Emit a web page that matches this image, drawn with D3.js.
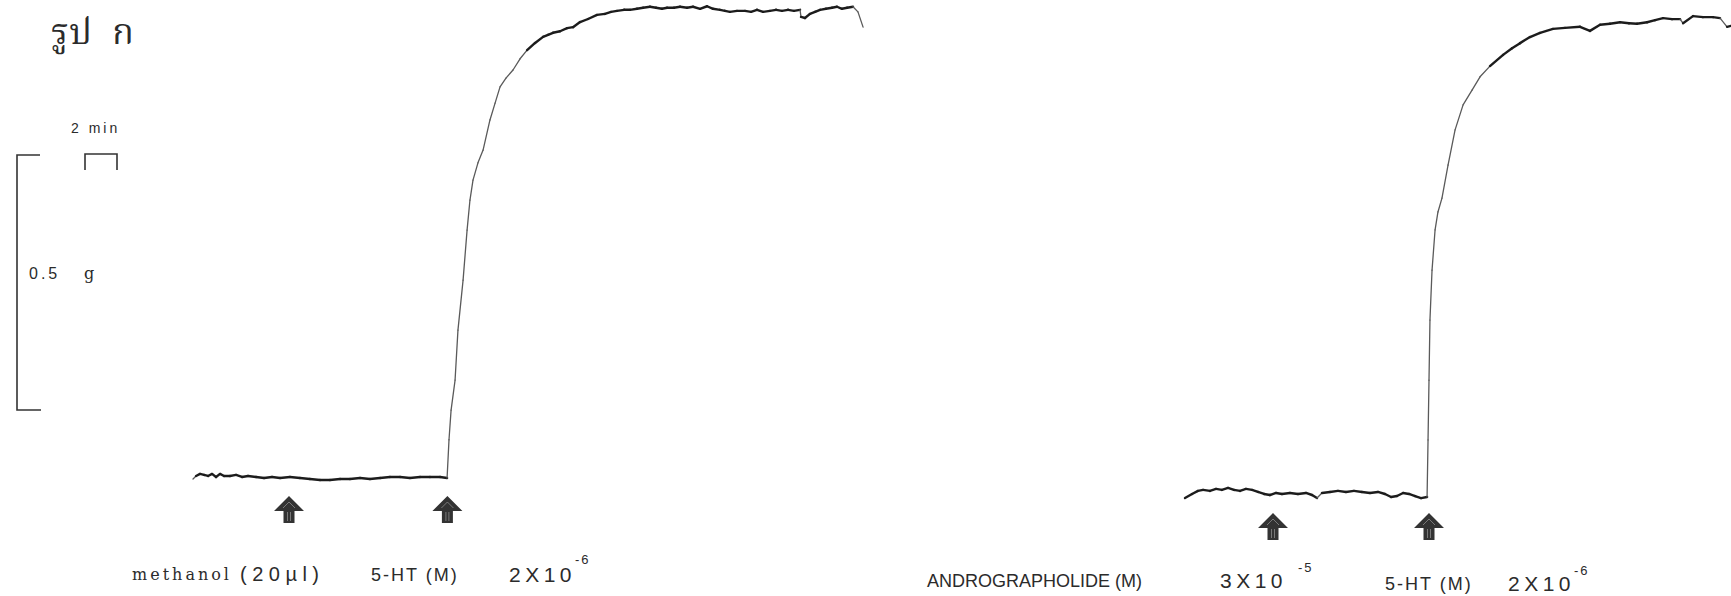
<!DOCTYPE html>
<html>
<head>
<meta charset="utf-8">
<script src="https://cdn.jsdelivr.net/npm/d3@7"></script>
<style>
body { margin: 0; background: #fff; }
svg text { fill: #2b2b2b; }
</style>
</head>
<body>
<div id="chart"></div>
<script>
// time in min after start of record, tension in g above resting level
const ctrlTime = [0, 0.19, 0.44, 0.69, 0.94, 1.19, 1.44, 1.69, 1.94, 2.31, 2.69, 3.06, 3.44, 3.94, 4.44, 4.94, 5.44, 6.06, 6.69, 7.31, 7.94, 8.56, 9.19, 9.81, 10.44, 11.06, 11.69, 12.31, 12.94, 13.56, 14.19, 14.81, 15.44, 15.88,
    16.0, 16.13, 16.38, 16.56, 16.88, 17.13, 17.31, 17.5, 17.81, 18.13, 18.56, 18.88, 19.19, 19.56, 20.0, 20.44, 20.88, 21.38, 21.88, 22.19, 22.5, 22.94, 23.38, 23.75, 24.19, 24.69, 25.25, 25.75, 26.13,
    26.5, 26.94, 27.31, 27.75, 28.13, 28.56, 28.94, 29.31, 29.63, 30.06, 30.44, 30.88, 31.25, 31.69, 32.13, 32.5, 32.94, 33.25, 33.56, 34.0, 34.5, 34.88, 35.25, 35.63, 36.06, 36.44, 36.81, 37.19, 37.56, 37.94,
    38.0, 38.25, 38.56, 38.88, 39.19, 39.56, 39.94, 40.25, 40.56, 40.88, 41.25, 41.56, 41.88];
const ctrlTension = [-0.002, 0.004, 0.008, 0.006, 0.004, 0.008, 0.002, 0.008, 0.004, 0.004, 0.006, 0.002, 0.004, 0.002, 0, 0.002, 0, 0.002, 0, -0.002, -0.004, -0.004, -0.002, -0.002, 0, -0.002, 0, 0.002, 0.002, 0, 0.002, 0.002, 0.002, 0,
    0.075, 0.133, 0.192, 0.29, 0.388, 0.486, 0.545, 0.584, 0.618, 0.643, 0.702, 0.735, 0.767, 0.784, 0.8, 0.822, 0.839, 0.853, 0.865, 0.869, 0.873, 0.876, 0.882, 0.884, 0.894, 0.9, 0.908, 0.91, 0.914,
    0.916, 0.918, 0.918, 0.92, 0.922, 0.924, 0.922, 0.92, 0.922, 0.922, 0.924, 0.922, 0.924, 0.92, 0.925, 0.92, 0.918, 0.916, 0.914, 0.916, 0.916, 0.914, 0.918, 0.914, 0.916, 0.918, 0.916, 0.918, 0.916, 0.918,
    0.904, 0.902, 0.91, 0.914, 0.918, 0.92, 0.922, 0.924, 0.92, 0.922, 0.924, 0.914, 0.884];

const androTime = [0, 0.44, 0.81, 1.13, 1.56, 1.94, 2.31, 2.69, 3.06, 3.44, 3.81, 4.19, 4.56, 4.94, 5.31, 5.69, 6.06, 6.56, 7.06, 7.56, 7.94, 8.25, 8.56, 9.06, 9.56, 10.06, 10.56, 11.06, 11.56, 12.06, 12.5, 12.88, 13.25, 13.63, 14.0, 14.38, 14.75, 15.13,
    15.19, 15.25, 15.31, 15.44, 15.63, 15.81, 16.06, 16.44, 16.88, 17.38, 17.94, 18.44, 19.06, 19.88, 20.44, 20.94, 21.56, 22.19, 23.0, 23.75, 24.69, 25.31, 25.94, 26.56, 27.19, 27.75, 28.25, 28.88, 29.38, 29.88, 30.44, 30.94, 31.13, 31.75, 32.38, 33.0, 33.44, 33.88, 34.13];
const androTension = [-0.006, 0.002, 0.008, 0.01, 0.008, 0.012, 0.01, 0.014, 0.01, 0.008, 0.012, 0.01, 0.006, 0.002, 0, 0.004, 0.002, 0.004, 0.002, 0.004, 0, -0.006, 0.004, 0.006, 0.008, 0.006, 0.008, 0.006, 0.004, 0.006, 0.002, -0.004, -0.002, 0.004, 0.002, -0.002, -0.006, -0.004,
    0.108, 0.225, 0.343, 0.441, 0.52, 0.555, 0.582, 0.647, 0.716, 0.765, 0.794, 0.82, 0.841, 0.863, 0.876, 0.886, 0.898, 0.906, 0.914, 0.916, 0.918, 0.91, 0.922, 0.924, 0.927, 0.925, 0.924, 0.927, 0.931, 0.935, 0.933, 0.933, 0.925, 0.939, 0.937, 0.937, 0.935, 0.918, 0.92];

// drug additions (min)
const ctrlDoses = [6.0, 15.9];
const androDoses = [5.5, 15.25];

const title = "รูป ก";
const calTime = 2;      // min
const calTension = 0.5; // g
const ctrlLabels = ["methanol", "(20\u00b5l)", "5-HT (M)", "2X10", "-6"];
const androLabels = ["ANDROGRAPHOLIDE (M)", "3X10", "-5", "5-HT (M)", "2X10", "-6"];

const width = 1731, height = 596;
const pxPerMin = 16, pxPerG = 510;

const svg = d3.select("#chart")
    .append("svg")
    .attr("width", width)
    .attr("height", height);

function drawPanel(time, tension, doses, x0, y0) {
    const tMax = d3.max(time);
    const xScale = d3.scaleLinear().domain([0, tMax]).range([x0, x0 + tMax * pxPerMin]);
    const yScale = d3.scaleLinear().domain([0, 1]).range([y0, y0 - pxPerG]);
    const pts = time.map((t, i) => [xScale(t), yScale(tension[i])]);

    // steep parts of the record come out thin and grey, like the pen trace
    const steep = d => Math.abs(d[1][1] - d[0][1]) > 1.0 * Math.abs(d[1][0] - d[0][0]);
    svg.append("g")
        .selectAll("line")
        .data(d3.pairs(pts))
        .enter()
        .append("line")
            .attr("x1", d => d[0][0]).attr("y1", d => d[0][1])
            .attr("x2", d => d[1][0]).attr("y2", d => d[1][1])
            .attr("stroke", d => steep(d) ? "#5a5a5a" : "#1c1c1c")
            .attr("stroke-width", d => steep(d) ? 1.3 : 2.4)
            .attr("stroke-linecap", "round");

    const arrows = svg.append("g")
        .selectAll("g")
        .data(doses)
        .enter()
        .append("g")
            .attr("transform", d => `translate(${xScale(d)},${y0 + 18})`);
    arrows.append("path")
        .attr("d", "M0,0 L15,15 L5.5,15 L5.5,27 L-5.5,27 L-5.5,15 L-15,15 Z")
        .attr("fill", "#333");
    arrows.append("path")
        .attr("d", "M-6,12 L0,6 L6,12 M-1.5,16 V25 M1.5,16 V25")
        .attr("stroke", "#8a8a8a")
        .attr("stroke-width", 0.8)
        .attr("fill", "none");

    return {xScale, yScale};
}

const left = drawPanel(ctrlTime, ctrlTension, ctrlDoses, 193, 478);
const right = drawPanel(androTime, androTension, androDoses, 1185, 495);

// calibration bars
const barLen = left.yScale(0) - left.yScale(calTension);
const minLen = left.xScale(calTime) - left.xScale(0);
svg.append("path")
    .attr("d", `M40,155 H17 V${155 + barLen} H41`)
    .attr("fill", "none").attr("stroke", "#333").attr("stroke-width", 1.6);
svg.append("path")
    .attr("d", `M85,170 V154 H${85 + minLen} V170`)
    .attr("fill", "none").attr("stroke", "#333").attr("stroke-width", 1.6);

const sans = "'Liberation Sans', Arial, sans-serif";
svg.append("text").attr("x", 71).attr("y", 133)
    .style("font", `14px ${sans}`)
    .attr("letter-spacing", 3)
    .text(calTime + " min");
svg.append("text").attr("x", 29).attr("y", 279)
    .style("font", `16px ${sans}`)
    .attr("letter-spacing", 3)
    .text(calTension.toFixed(1));
svg.append("text").attr("x", 84).attr("y", 279)
    .style("font", "16px 'DejaVu Serif', serif")
    .text("g");

const titleText = svg.append("text").attr("y", 44)
    .style("font", "36px 'Noto Serif Thai', 'Noto Sans Thai', 'Tlwg Typo', 'Norasi', serif");
titleText.selectAll("tspan")
    .data(title.split(" "))
    .enter()
    .append("tspan")
        .attr("x", (d, i) => i === 0 ? 51 : 112)
        .text(d => d);

// record labels
svg.append("text").attr("x", 132).attr("y", 580)
    .style("font", "16px 'DejaVu Serif', serif").attr("letter-spacing", 3)
    .text(ctrlLabels[0]);
svg.append("text").attr("x", 240).attr("y", 581)
    .style("font", `20px ${sans}`).attr("letter-spacing", 5.5)
    .text(ctrlLabels[1]);
svg.append("text").attr("x", 371).attr("y", 581)
    .style("font", `18px ${sans}`).attr("letter-spacing", 2)
    .text(ctrlLabels[2]);
svg.append("text").attr("x", 509).attr("y", 582)
    .style("font", `21px ${sans}`).attr("letter-spacing", 4.5)
    .text(ctrlLabels[3]);
svg.append("text").attr("x", 575).attr("y", 564)
    .style("font", `13px ${sans}`).attr("letter-spacing", 2)
    .text(ctrlLabels[4]);

svg.append("text").attr("x", 927).attr("y", 587)
    .style("font", `18px ${sans}`)
    .text(androLabels[0]);
svg.append("text").attr("x", 1220).attr("y", 588)
    .style("font", `21px ${sans}`).attr("letter-spacing", 4.5)
    .text(androLabels[1]);
svg.append("text").attr("x", 1298).attr("y", 572)
    .style("font", `13px ${sans}`).attr("letter-spacing", 2)
    .text(androLabels[2]);
svg.append("text").attr("x", 1385).attr("y", 590)
    .style("font", `18px ${sans}`).attr("letter-spacing", 2)
    .text(androLabels[3]);
svg.append("text").attr("x", 1508).attr("y", 591)
    .style("font", `21px ${sans}`).attr("letter-spacing", 4.5)
    .text(androLabels[4]);
svg.append("text").attr("x", 1574).attr("y", 575)
    .style("font", `13px ${sans}`).attr("letter-spacing", 2)
    .text(androLabels[5]);
</script>
</body>
</html>
